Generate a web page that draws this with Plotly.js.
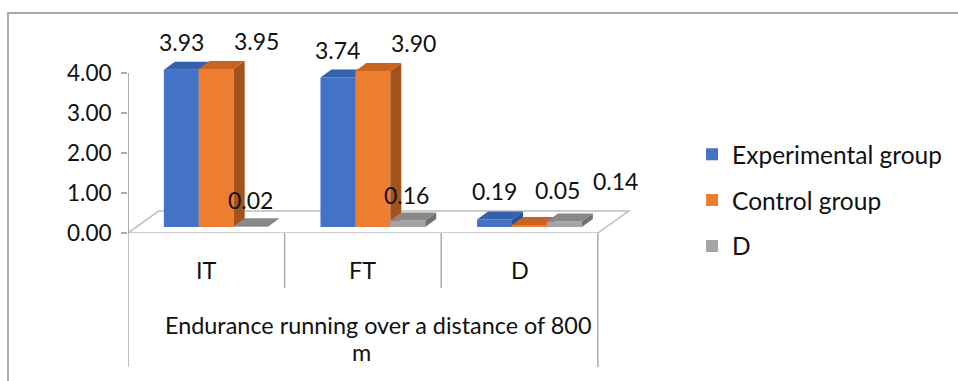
<!DOCTYPE html>
<html>
<head>
<meta charset="utf-8">
<script src="https://cdn.plot.ly/plotly-3.0.1.min.js"></script>
<style>
  html, body { margin: 0; padding: 0; background: #ffffff; }
  #wrap { position: relative; width: 958px; height: 381px; overflow: hidden; }
  #chart { position: absolute; left: 0; top: 0; width: 958px; height: 381px; }
  #frame { position: absolute; left: 7px; top: 12px; width: 1000px; height: 400px;
           border-top: 2px solid #ABABAB; border-left: 2px solid #ABABAB; pointer-events: none; }
</style>
</head>
<body>
<div id="wrap">
  <div id="chart"></div>
  <div id="frame"></div>
</div>
<script>
// ---- data ----
const CATEGORIES = ['IT', 'FT', 'D'];
const SERIES_NAMES = ['Experimental group', 'Control group', 'D'];
const EXPERIMENTAL = [3.93, 3.74, 0.19];
const CONTROL = [3.95, 3.90, 0.05];
const DIFFERENCE = [0.02, 0.16, 0.14];
const Y_TICKS = [0, 1, 2, 3, 4];
const GROUP_TITLE_LINES = ['Endurance running over a distance of 800', 'm'];

const SERIES = [EXPERIMENTAL, CONTROL, DIFFERENCE];

// ---- styling / 3-D projection settings ----
const FONT = 'Lato, "Open Sans", sans-serif';
const TEXT_COLOR = '#111111';
const FS_LABEL = 23, FS_TICK = 22.5, FS_CAT = 23.4, FS_LEGEND = 24.5;
const FRONT = ['#4472C4', '#ED7D31', '#A5A5A5'];
const TOP   = ['#3560AC', '#C8641F', '#888888'];
const SIDE  = ['#2D5394', '#A4521B', '#717171'];
const BAR_W = 0.223;          // bar width, in category units
const GROUP_START = 0.229;    // left edge of the first bar inside a category
const LIFT = 0.15;            // bars stand in the middle of the floor's depth
const DEPTH_DX = 0.07, DEPTH_DY = 0.2;     // bar depth projection
const FLOOR_DX = 0.197, FLOOR_DY = 0.55;   // floor depth projection
const X_MAX = 3.25, Y_MAX = 4.6;
// data-label nudges in pixels (x right, y up) per series / category
const LABEL_DX = [[0, 0, 0], [40, 41, 28], [-1, -1, 51]];
const LABEL_DY = [[28, 27, 28], [28, 28, 35], [26, 26, 40]];
// group title line placement: [x offset in px from the middle, paper y]
const TITLE_POS = [[15, -0.5], [-1, -0.645]];

const nCat = CATEGORIES.length;
const traces = [];
const annotations = [];

SERIES.forEach((vals, s) => {
  const ax = s === 0 ? '' : String(s + 1);
  const xa = 'x' + ax, ya = 'y' + ax;
  const centers = vals.map((v, c) => c + GROUP_START + BAR_W / 2 + s * BAR_W);

  // front faces
  traces.push({
    type: 'bar', name: SERIES_NAMES[s], legendgroup: 'g' + s,
    x: centers, y: vals, base: vals.map(() => LIFT), width: BAR_W,
    marker: { color: FRONT[s], line: { width: 0 } },
    xaxis: xa, yaxis: ya, hoverinfo: 'skip'
  });

  // top and side faces
  const topX = [], topY = [], sideX = [], sideY = [];
  vals.forEach((v, c) => {
    const L = centers[c] - BAR_W / 2, R = centers[c] + BAR_W / 2;
    const h = LIFT + v;
    topX.push(L, R, R + DEPTH_DX, L + DEPTH_DX, L, null);
    topY.push(h, h, h + DEPTH_DY, h + DEPTH_DY, h, null);
    sideX.push(R, R + DEPTH_DX, R + DEPTH_DX, R, R, null);
    sideY.push(LIFT, LIFT + DEPTH_DY, h + DEPTH_DY, h, LIFT, null);

    annotations.push({
      xref: 'x', yref: 'y', x: centers[c], y: h,
      text: v.toFixed(2), showarrow: false,
      xanchor: 'center', yanchor: 'middle',
      xshift: LABEL_DX[s][c], yshift: LABEL_DY[s][c],
      font: { family: FONT, size: FS_LABEL, color: TEXT_COLOR }
    });
  });
  traces.push({
    type: 'scatter', mode: 'lines', x: sideX, y: sideY, fill: 'toself',
    fillcolor: SIDE[s], line: { width: 0, color: SIDE[s] },
    showlegend: false, hoverinfo: 'skip', xaxis: xa, yaxis: ya
  });
  traces.push({
    type: 'scatter', mode: 'lines', x: topX, y: topY, fill: 'toself',
    fillcolor: TOP[s], line: { width: 0, color: TOP[s] },
    showlegend: false, hoverinfo: 'skip', xaxis: xa, yaxis: ya
  });
});

// category labels and the group title
CATEGORIES.forEach((cat, c) => {
  annotations.push({
    xref: 'x', yref: 'paper', x: c + 0.5, y: -0.2,
    text: cat, showarrow: false, xanchor: 'center', yanchor: 'middle',
    font: { family: FONT, size: FS_CAT, color: TEXT_COLOR }
  });
});
GROUP_TITLE_LINES.forEach((line, i) => {
  annotations.push({
    xref: 'x', yref: 'paper', x: nCat / 2, y: TITLE_POS[i][1], xshift: TITLE_POS[i][0],
    text: line, showarrow: false, xanchor: 'center', yanchor: 'middle',
    font: { family: FONT, size: FS_CAT, color: TEXT_COLOR }
  });
});

// floor, value axis line and category dividers
const shapes = [];
shapes.push({
  type: 'path', xref: 'x', yref: 'y', layer: 'below',
  path: `M0,0 L${nCat},0 L${nCat + FLOOR_DX},${FLOOR_DY} L${FLOOR_DX},${FLOOR_DY} Z`,
  fillcolor: '#ffffff', line: { color: '#BDBDBD', width: 1.5 }
});
shapes.push({
  type: 'line', xref: 'x', yref: 'y', x0: 0, x1: 0, y0: 0, y1: Y_TICKS[Y_TICKS.length - 1],
  line: { color: '#ABABAB', width: 2 }
});
for (let c = 0; c <= nCat; c++) {
  const outer = (c === 0 || c === nCat);
  shapes.push({
    type: 'line', xref: 'x', yref: 'paper', x0: c, x1: c, y0: 0, y1: outer ? -0.728 : -0.3,
    line: { color: '#ABABAB', width: 1.5 }
  });
}

const hiddenX = { range: [0, X_MAX], visible: false, fixedrange: true };
const hiddenY = { range: [0, Y_MAX], visible: false, fixedrange: true };

const layout = {
  width: 958, height: 381,
  margin: { l: 128, r: 320, t: 49, b: 148 },
  paper_bgcolor: 'rgba(0,0,0,0)', plot_bgcolor: 'rgba(0,0,0,0)',
  barmode: 'overlay',
  font: { family: FONT, size: FS_TICK, color: TEXT_COLOR },
  xaxis: { range: [0, X_MAX], showgrid: false, zeroline: false, showline: false,
           showticklabels: false, ticks: '', fixedrange: true },
  yaxis: { range: [0, Y_MAX], tickvals: Y_TICKS, ticktext: Y_TICKS.map(v => v.toFixed(2)),
           showgrid: false, zeroline: false, showline: false,
           ticks: 'outside', ticklen: 6, tickwidth: 1.5, tickcolor: '#ABABAB',
           ticklabelstandoff: 5,
           tickfont: { family: FONT, size: FS_TICK, color: TEXT_COLOR }, fixedrange: true },
  xaxis2: Object.assign({ overlaying: 'x', matches: 'x' }, hiddenX),
  yaxis2: Object.assign({ overlaying: 'y', matches: 'y' }, hiddenY),
  xaxis3: Object.assign({ overlaying: 'x', matches: 'x' }, hiddenX),
  yaxis3: Object.assign({ overlaying: 'y', matches: 'y' }, hiddenY),
  showlegend: true,
  legend: { x: 1.106, xanchor: 'left', y: 0.55, yanchor: 'top',
            traceorder: 'grouped', tracegroupgap: 11,
            font: { family: FONT, size: FS_LEGEND, color: TEXT_COLOR },
            bgcolor: 'rgba(0,0,0,0)' },
  shapes: shapes,
  annotations: annotations
};

Plotly.newPlot('chart', traces, layout, { staticPlot: true, displayModeBar: false });
</script>
</body>
</html>
